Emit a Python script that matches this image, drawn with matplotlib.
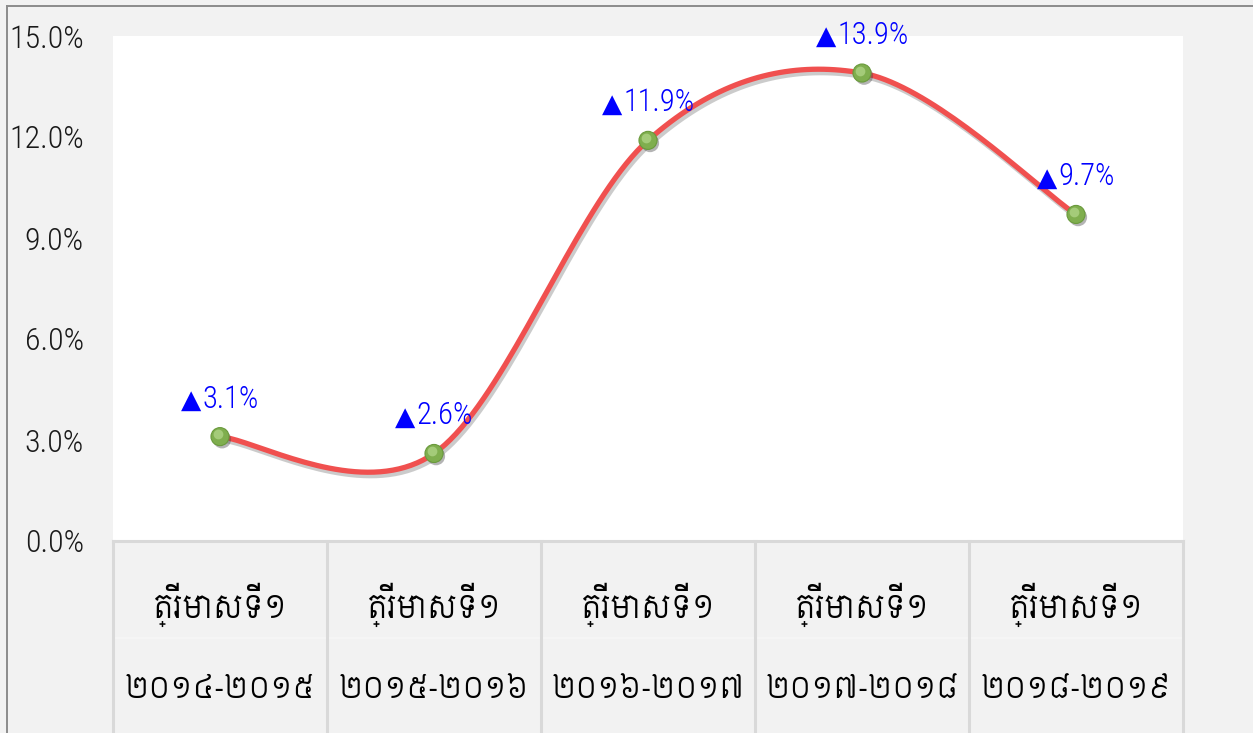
import matplotlib
matplotlib.use('Agg')
import numpy as np
import matplotlib.pyplot as plt
import matplotlib.patheffects as pe
from matplotlib.lines import Line2D
from matplotlib.ticker import FuncFormatter
from matplotlib.path import Path
from matplotlib.transforms import blended_transform_factory
from matplotlib.offsetbox import TextArea, HPacker, AnnotationBbox

# data
quarter_label = 'ត្រីមាសទី១'
periods = ['២០១៤-២០១៥', '២០១៥-២០១៦', '២០១៦-២០១៧', '២០១៧-២០១៨', '២០១៨-២០១៩']
growth = [3.1, 2.6, 11.9, 13.9, 9.7]
y_ticks = [0, 3, 6, 9, 12, 15]

latin = ['Roboto Condensed', 'Liberation Sans Narrow', 'DejaVu Sans']
khmer = ['Siemreap', 'Battambang', 'Noto Sans Khmer', 'DejaVu Sans']

W, H = 1253, 733
fig = plt.figure(figsize=(W / 100, H / 100), dpi=100, facecolor='#F2F2F2')
ax = fig.add_axes([113 / W, (H - 541) / H, (1183 - 113) / W, (541 - 36) / H])
ax.set_facecolor('white')
for s in ax.spines.values():
    s.set_visible(False)

x = np.arange(len(growth))
ax.set_xlim(-0.5, len(growth) - 0.5)
ax.set_ylim(0, 15)


# smooth curve, catmull-rom -> bezier (like the excel smoothed line)
def smooth_path(xs, ys):
    pts = np.column_stack([xs, ys]).astype(float)
    n = len(pts)
    verts = [pts[0]]
    codes = [Path.MOVETO]
    for i in range(n - 1):
        p0 = pts[max(i - 1, 0)]
        p1 = pts[i]
        p2 = pts[i + 1]
        p3 = pts[min(i + 2, n - 1)]
        c1 = p1 + (p2 - p0) / 6.0
        c2 = p2 - (p3 - p1) / 6.0
        verts += [c1, c2, p2]
        codes += [Path.CURVE4] * 3
    return Path(np.array(verts), codes)


path = smooth_path(x, growth)
t = np.linspace(0, 1, 40)
curve = []
for seg in range(len(growth) - 1):
    v = path.vertices[seg * 3: seg * 3 + 4]
    b = ((1 - t) ** 3)[:, None] * v[0] + (3 * (1 - t) ** 2 * t)[:, None] * v[1] \
        + (3 * (1 - t) * t ** 2)[:, None] * v[2] + (t ** 3)[:, None] * v[3]
    curve.append(b if seg == 0 else b[1:])
curve = np.vstack(curve)

ax.plot(curve[:, 0], curve[:, 1], color='#F0504F', lw=3.8, solid_capstyle='round',
        zorder=3, clip_on=False,
        path_effects=[pe.SimpleLineShadow(offset=(1.5, -2.5), shadow_color='#555555', alpha=0.3),
                      pe.Normal()])

# green "sphere" markers
ax.plot(x, growth, 'o', ms=13, mfc='#7FAE4E', mec='#6A9A3C', mew=0.8, zorder=4, clip_on=False,
        path_effects=[pe.SimplePatchShadow(offset=(1.5, -2), shadow_rgbFace='#444444', alpha=0.4),
                      pe.Normal()])
ax.plot(x - 0.008, np.array(growth) + 0.07, 'o', ms=7, mfc='#A9CF7E', mec='none', alpha=0.9,
        zorder=5, clip_on=False)

# data labels: triangle (DejaVu has the glyph) + value
for xi, v in zip(x, growth):
    tri = TextArea('▲', textprops=dict(color='#0000FF', fontsize=19, family='DejaVu Sans'))
    num = TextArea(f'{v:.1f}%', textprops=dict(color='#0000FF', fontsize=22, family=latin,
                                               fontweight='light'))
    box = HPacker(children=[tri, num], align='baseline', pad=0, sep=1)
    ab = AnnotationBbox(box, (xi, v), xybox=(0, 27), xycoords='data', boxcoords='offset points',
                        box_alignment=(0.5, 0.5), frameon=False, zorder=6,
                        annotation_clip=False)
    ax.add_artist(ab)

# y axis
ax.set_yticks(y_ticks)
ax.yaxis.set_major_formatter(FuncFormatter(lambda v, p: f'{v:.1f}%'))
ax.tick_params(axis='y', length=0, pad=21, labelsize=23, labelcolor='#1a1a1a')
for lab in ax.get_yticklabels():
    lab.set_family(latin)
    lab.set_fontweight('light')
ax.set_xticks([])

# category table under the plot
tr = blended_transform_factory(ax.transData, ax.transAxes)
ybot = -(H - 541) / (541 - 36)
grid = '#D9D9D9'
ax.add_line(Line2D([-0.5, len(growth) - 0.5], [0, 0], transform=tr, color=grid, lw=2.2,
                   clip_on=False, zorder=2))
ax.add_line(Line2D([-0.5, len(growth) - 0.5], [-0.192, -0.192], transform=tr, color='#F6F6F6',
                   lw=1.2, clip_on=False, zorder=1))
for b in np.arange(-0.5, len(growth), 1.0):
    ax.add_line(Line2D([b, b], [0, ybot], transform=tr, color=grid, lw=2.2, clip_on=False, zorder=2))

for xi, p in zip(x, periods):
    ax.text(xi, -0.127, quarter_label, transform=tr, ha='center', va='center',
            fontsize=22, family=khmer, color='black')
    ax.text(xi, -0.295, p, transform=tr, ha='center', va='center',
            fontsize=21, family=khmer, color='black')

# outer frame (top and left edges)
fig.add_artist(Line2D([7 / W, 1], [1 - 6 / H, 1 - 6 / H], color='#8C8C8C', lw=1.4))
fig.add_artist(Line2D([7 / W, 7 / W], [0, 1 - 6 / H], color='#8C8C8C', lw=1.4))

fig.savefig('out.png', dpi=100, facecolor=fig.get_facecolor())
